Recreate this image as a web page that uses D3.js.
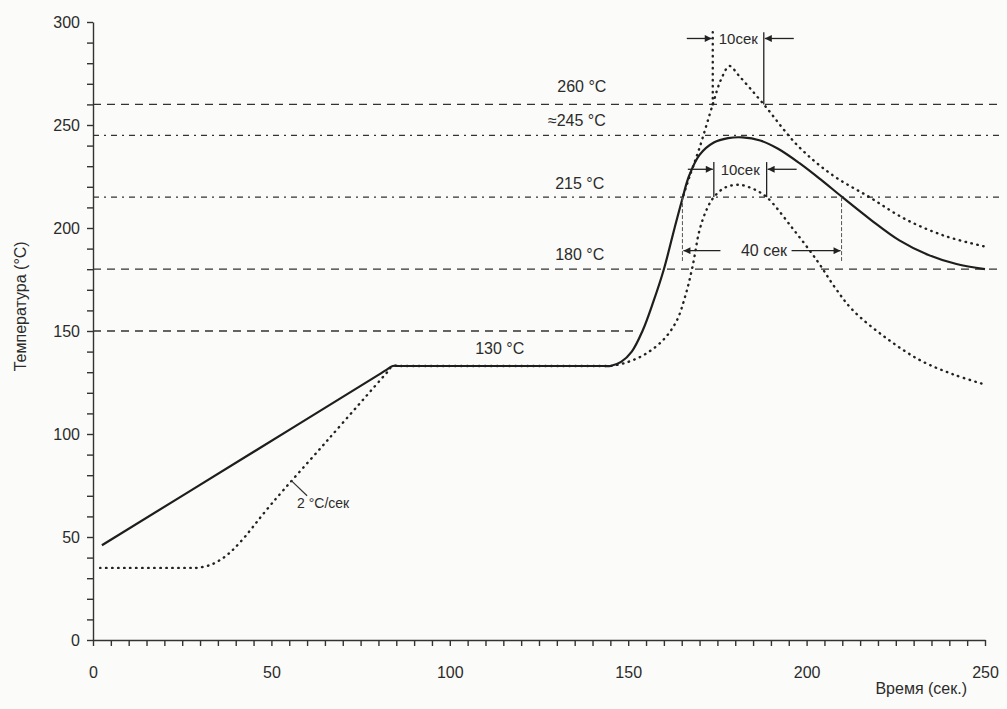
<!DOCTYPE html>
<html>
<head>
<meta charset="utf-8">
<script src="https://cdn.jsdelivr.net/npm/d3@7"></script>
<style>
  body { margin: 0; background: #fbfbf9; }
  text { font-family: "Liberation Sans", Arial, sans-serif; fill: #2b2b2b; }
</style>
</head>
<body>
<div id="chart"></div>
<script>
// typical profile (solid line)
const solidTime = [2.5, 43, 80, 82, 84, 86, 143, 145, 148, 151, 154, 157, 160, 163, 165, 167, 170, 174, 178, 182, 187, 192, 198, 204, 210, 218, 226, 234, 242, 250];
const solidTemp = [46, 89.2, 128.7, 130.9, 133, 133, 133, 133, 135, 140, 150, 164, 180, 200, 213, 225, 235.5, 241.5, 243.6, 244, 242.5, 238.5, 231.5, 223.5, 215, 204, 194, 187, 182.5, 180];

// lower limit profile (dotted)
const lowerTime = [2, 27, 29, 33, 37, 41, 50, 66, 82, 84, 86, 143, 145, 150, 155, 160, 163.6, 166, 168, 170, 172, 174, 177, 181, 185, 188.8, 196, 203, 208, 213, 222, 231.6, 241, 250];
const lowerTemp = [35, 35, 35, 36.5, 40.5, 47, 66, 97.5, 129.1, 133, 133, 133, 133, 135, 139, 146, 155, 167, 181, 199, 209, 215, 219.5, 221, 219, 215, 200, 184, 171, 160, 147, 136, 129, 124];

// upper limit profile (dotted), branches off the solid curve
const upperTime = [165.5, 167, 170, 173.7, 176, 178.4, 181, 188, 197.5, 207, 217.6, 228, 239, 250];
const upperTemp = [216, 224, 239, 260, 272, 278.6, 274, 260, 240, 226, 215, 204, 196, 191];

// reference temperatures and where their lines stop
const refTemps = [260, 245, 215, 180, 150];
const refEnds = [254, 254, 254, 254, 153];

// time spans marked with arrows
const spanNames = ["10сек", "10сек", "40 сек"];
const spanFrom = [173.7, 174, 165.2];
const spanTo = [188, 188.8, 209.8];

const xTicks = d3.range(0, 251, 5);
const yTicks = d3.range(0, 301, 10);

function draw() {
    const width = 1007, height = 709;

    const svg = d3.select("#chart").append("svg")
        .attr("width", width)
        .attr("height", height);

    const x = d3.scaleLinear().domain([0, 250]).range([93, 985]);
    const y = d3.scaleLinear().domain([0, 300]).range([640, 22]);

    const defs = svg.append("defs");
    defs.append("marker")
        .attr("id", "arrow")
        .attr("viewBox", "0 0 10 10")
        .attr("refX", 10).attr("refY", 5)
        .attr("markerWidth", 9).attr("markerHeight", 7)
        .attr("markerUnits", "userSpaceOnUse")
        .attr("orient", "auto")
        .append("path")
        .attr("d", "M0,0 L10,5 L0,10 z")
        .attr("fill", "#222");

    // reference lines
    svg.selectAll(".ref")
        .data(refTemps)
        .enter()
        .append("line")
        .attr("class", "ref")
        .attr("x1", x(0))
        .attr("x2", (d, i) => x(refEnds[i]))
        .attr("y1", d => y(d))
        .attr("y2", d => y(d))
        .attr("stroke", "#333")
        .attr("stroke-width", 1.3)
        .attr("stroke-dasharray", d => (d === 245 || d === 215) ? "6,5,2,5" : "8,6");

    const line = d3.line()
        .x(d => x(d[0]))
        .y(d => y(d[1]))
        .curve(d3.curveCatmullRom.alpha(0.5));

    const solid = solidTime.map((t, i) => [t, solidTemp[i]]);
    const lower = lowerTime.map((t, i) => [t, lowerTemp[i]]);
    const upper = upperTime.map((t, i) => [t, upperTemp[i]]);

    [lower, upper].forEach(pts => {
        svg.append("path")
            .datum(pts)
            .attr("d", line)
            .attr("fill", "none")
            .attr("stroke", "#222")
            .attr("stroke-width", 2.4)
            .attr("stroke-linecap", "round")
            .attr("stroke-dasharray", "0.5,5.5");
    });

    svg.append("path")
        .datum(solid)
        .attr("d", line)
        .attr("fill", "none")
        .attr("stroke", "#1e1e1e")
        .attr("stroke-width", 2.2);

    // axes
    const xAxis = svg.append("g")
        .attr("transform", `translate(0,${y(0)})`)
        .call(d3.axisBottom(x)
            .tickValues(xTicks)
            .tickFormat(d => d % 50 === 0 ? d : "")
            .tickSizeInner(6)
            .tickSizeOuter(0)
            .tickPadding(21));

    const yAxis = svg.append("g")
        .attr("transform", `translate(${x(0)},0)`)
        .call(d3.axisLeft(y)
            .tickValues(yTicks)
            .tickFormat(d => d % 50 === 0 ? d : "")
            .tickSizeInner(6)
            .tickSizeOuter(0)
            .tickPadding(7));

    [xAxis, yAxis].forEach(g => {
        g.selectAll("path, line").attr("stroke", "#333").attr("stroke-width", 1.4);
        g.selectAll("text").style("font-size", "16px").attr("fill", "#2b2b2b");
    });

    // span annotations
    const spanTop = [295, 232, 184];
    const spanBase = [260, 215, 215];
    const spanLevel = [292, 228.5, 189];

    spanNames.forEach((name, i) => {
        const x0 = x(spanFrom[i]), x1 = x(spanTo[i]);
        const yl = y(spanLevel[i]);
        const inner = i === 2;

        [x0, x1].forEach((xx, j) => {
            const v = svg.append("line")
                .attr("x1", xx).attr("x2", xx)
                .attr("y1", y(spanBase[i])).attr("y2", y(spanTop[i]))
                .attr("stroke", "#222");
            if (i === 0 && j === 0) {
                v.attr("stroke-width", 2.4)
                    .attr("stroke-linecap", "round")
                    .attr("stroke-dasharray", "0.5,5.5");
            } else if (inner) {
                v.attr("stroke-width", 1).attr("stroke-dasharray", "4,2").attr("stroke", "#555");
            } else {
                v.attr("stroke-width", 1.3);
            }
        });

        if (inner) {
            svg.append("line")
                .attr("x1", x0 + 38).attr("x2", x0 + 1)
                .attr("y1", yl).attr("y2", yl)
                .attr("stroke", "#222").attr("stroke-width", 1.3)
                .attr("marker-end", "url(#arrow)");
            svg.append("line")
                .attr("x1", x1 - 50).attr("x2", x1 - 1)
                .attr("y1", yl).attr("y2", yl)
                .attr("stroke", "#222").attr("stroke-width", 1.3)
                .attr("marker-end", "url(#arrow)");
        } else {
            svg.append("line")
                .attr("x1", x0 - 26).attr("x2", x0 - 1)
                .attr("y1", yl).attr("y2", yl)
                .attr("stroke", "#222").attr("stroke-width", 1.3)
                .attr("marker-end", "url(#arrow)");
            svg.append("line")
                .attr("x1", x1 + 30).attr("x2", x1 + 1)
                .attr("y1", yl).attr("y2", yl)
                .attr("stroke", "#222").attr("stroke-width", 1.3)
                .attr("marker-end", "url(#arrow)");
        }

        svg.append("text")
            .attr("x", (x0 + x1) / 2 + (inner ? 2 : 0))
            .attr("y", yl)
            .attr("dy", "0.35em")
            .attr("text-anchor", "middle")
            .style("font-size", inner ? "16px" : "15px")
            .text(name);
    });

    // temperature labels
    const notes = [
        { t: 137, v: 268.5, s: "260 °C" },
        { t: 135.6, v: 252.4, s: "≈245 °C" },
        { t: 136.4, v: 221.8, s: "215 °C" },
        { t: 136.4, v: 187.4, s: "180 °C" },
        { t: 114, v: 141.5, s: "130 °C" },
        { t: 64.5, v: 66.5, s: "2 °C/сек" }
    ];
    svg.selectAll(".note")
        .data(notes)
        .enter()
        .append("text")
        .attr("class", "note")
        .attr("x", d => x(d.t))
        .attr("y", d => y(d.v))
        .attr("dy", "0.35em")
        .attr("text-anchor", "middle")
        .style("font-size", d => d.s.startsWith("2 ") ? "14px" : "16px")
        .text(d => d.s);

    // leader for the ramp rate label
    svg.append("line")
        .attr("x1", x(55.5)).attr("x2", x(60))
        .attr("y1", y(77.5)).attr("y2", y(70))
        .attr("stroke", "#333").attr("stroke-width", 1.2);

    // axis titles
    svg.append("text")
        .attr("transform", `translate(20,${y(162)}) rotate(-90)`)
        .attr("text-anchor", "middle")
        .attr("dy", "0.35em")
        .style("font-size", "16px")
        .text("Температура (°C)");

    svg.append("text")
        .attr("x", 967)
        .attr("y", 694)
        .attr("text-anchor", "end")
        .style("font-size", "16px")
        .text("Время (сек.)");
}

document.addEventListener("DOMContentLoaded", draw);
</script>
</body>
</html>
